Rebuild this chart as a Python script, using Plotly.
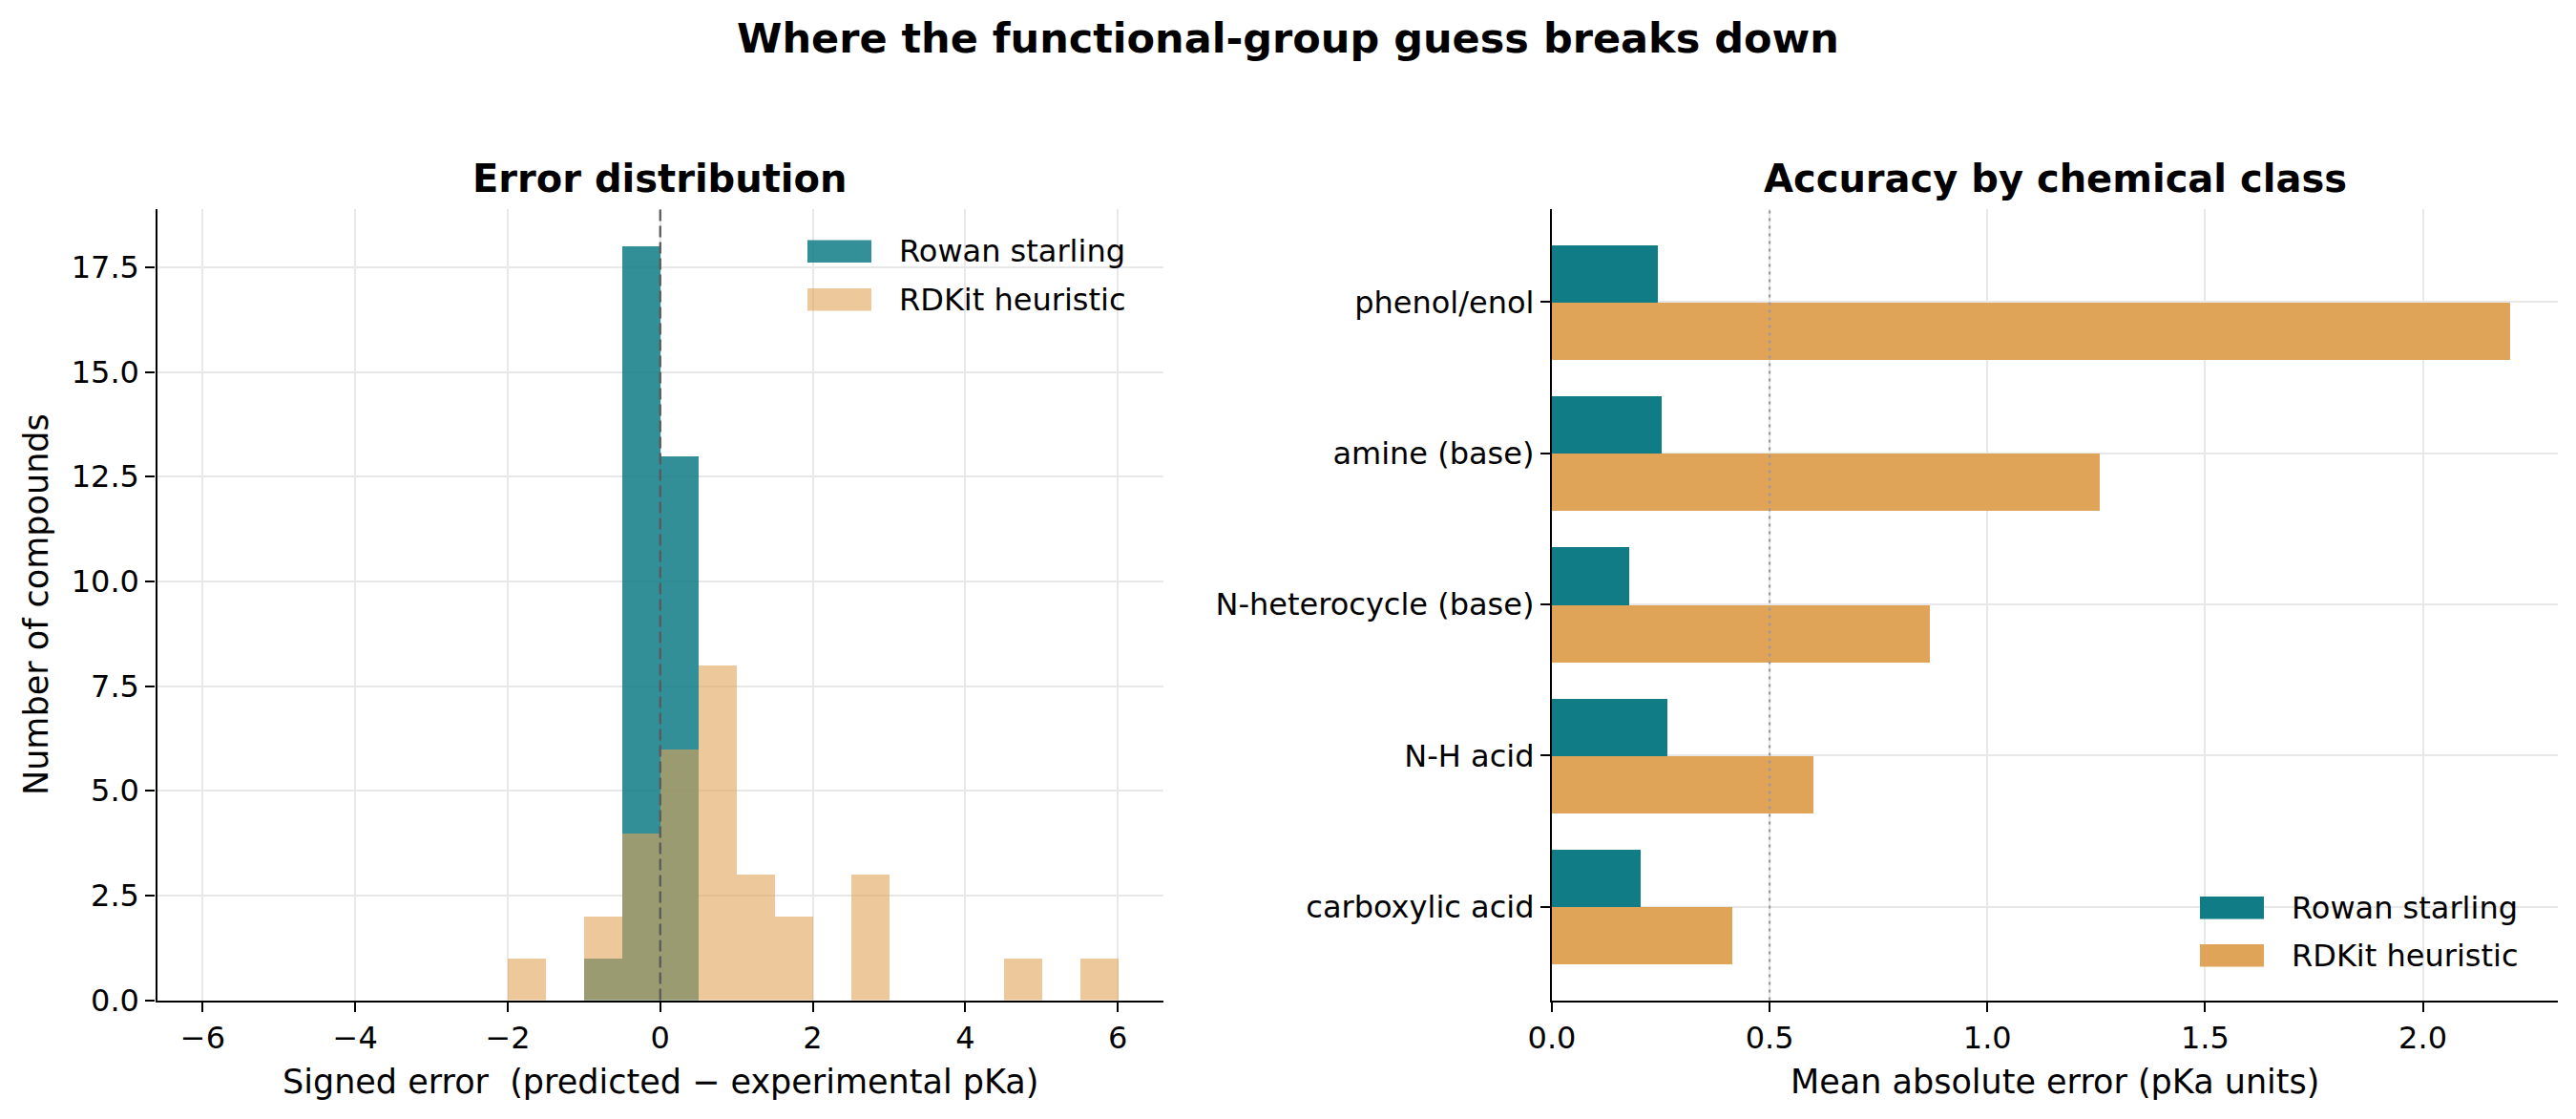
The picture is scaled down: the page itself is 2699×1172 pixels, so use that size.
import plotly.graph_objects as go

# ---------------- data ----------------
bin_width = 0.5
rowan_bin_left = [-1.0, -0.5, 0.0]
rowan_counts = [1, 18, 13]
rdkit_bin_left = [-2.0, -1.0, -0.5, 0.0, 0.5, 1.0, 1.5, 2.5, 4.5, 5.5]
rdkit_counts = [1, 2, 4, 6, 8, 3, 2, 3, 1, 1]

hist_xticks = [-6, -4, -2, 0, 2, 4, 6]
hist_xticktext = ["\u22126", "\u22124", "\u22122", "0", "2", "4", "6"]
hist_yticks = [0, 2.5, 5, 7.5, 10, 12.5, 15, 17.5]
hist_yticktext = ["0.0", "2.5", "5.0", "7.5", "10.0", "12.5", "15.0", "17.5"]

classes = ["phenol/enol", "amine (base)", "N-heterocycle (base)", "N-H acid", "carboxylic acid"]
mae_rowan = [0.244, 0.252, 0.177, 0.266, 0.204]
mae_rdkit = [2.20, 1.258, 0.868, 0.600, 0.415]
mae_xticks = [0, 0.5, 1.0, 1.5, 2.0]
mae_xticktext = ["0.0", "0.5", "1.0", "1.5", "2.0"]

series_names = ["Rowan starling", "RDKit heuristic"]

# ---------------- style ----------------
W, H = 2699, 1172
TEAL = "#0f7c86"
ORANGE = "#e0a458"
FONT = "DejaVu Sans"
TICK = 32
GRID = "#e8e8e8"
LW = 2.3


def px(x):
    return x / W


def py(y):
    return 1 - y / H


fig = go.Figure()

fig.add_trace(go.Bar(x=rowan_bin_left, y=rowan_counts, width=bin_width, offset=0,
                     marker=dict(color=TEAL, line=dict(width=0)), opacity=0.85,
                     name=series_names[0], xaxis="x", yaxis="y"))
fig.add_trace(go.Bar(x=rdkit_bin_left, y=rdkit_counts, width=bin_width, offset=0,
                     marker=dict(color=ORANGE, line=dict(width=0)), opacity=0.6,
                     name=series_names[1], xaxis="x", yaxis="y"))

fig.add_trace(go.Bar(y=classes, x=mae_rowan, orientation="h", width=0.38, offset=-0.38,
                     marker=dict(color=TEAL, line=dict(width=0)),
                     name=series_names[0], xaxis="x2", yaxis="y2"))
fig.add_trace(go.Bar(y=classes, x=mae_rdkit, orientation="h", width=0.38, offset=0,
                     marker=dict(color=ORANGE, line=dict(width=0)),
                     name=series_names[1], xaxis="x2", yaxis="y2"))

ydom = [py(1047.5), py(218.5)]
common = dict(showline=True, linecolor="black", linewidth=LW, mirror=False,
              ticks="outside", ticklen=10, tickwidth=LW, tickcolor="black",
              showgrid=True, gridcolor=GRID, gridwidth=1.6, zeroline=False,
              automargin=False,
              tickfont=dict(family=FONT, size=TICK, color="black"))

fig.update_layout(
    template="none",
    width=W, height=H, margin=dict(l=0, r=0, t=0, b=0, pad=0),
    paper_bgcolor="white", plot_bgcolor="white",
    barmode="overlay", bargap=0, showlegend=False,
    font=dict(family=FONT, color="black"),
    xaxis=dict(domain=[px(164.5), px(1219)], range=[-6.6, 6.6], anchor="y",
               tickmode="array", tickvals=hist_xticks, ticktext=hist_xticktext, **common),
    yaxis=dict(domain=ydom, range=[0, 18.9], anchor="x",
               tickmode="array", tickvals=hist_yticks, ticktext=hist_yticktext, **common),
    xaxis2=dict(domain=[px(1626), px(2680)], range=[0, 2.31], anchor="y2",
                tickmode="array", tickvals=mae_xticks, ticktext=mae_xticktext, **common),
    yaxis2=dict(domain=ydom, type="category", categoryorder="array", categoryarray=classes,
                range=[4.618, -0.618], anchor="x2", **common),
)

shapes = [
    dict(type="line", xref="x", yref="y domain", x0=0, x1=0, y0=0, y1=1,
         line=dict(color="#5a5a5a", width=2.3, dash="12px,5px"), layer="above"),
    dict(type="line", xref="x2", yref="y2 domain", x0=0.5, x1=0.5, y0=0, y1=1,
         line=dict(color="#999999", width=2.2, dash="3px,5px"), layer="above"),
]

# manual legends (matplotlib-style patches)
def legend(x0, ys, colors, opac):
    out_s, out_a = [], []
    for (yc, name, c, o) in zip(ys, series_names, colors, opac):
        out_s.append(dict(type="rect", xref="paper", yref="paper",
                          x0=px(x0), x1=px(x0 + 67), y0=py(yc + 11.7), y1=py(yc - 11.7),
                          fillcolor=c, opacity=o, line=dict(width=0), layer="above"))
        out_a.append(dict(text=name, xref="paper", yref="paper", x=px(x0 + 94), y=py(yc),
                          xanchor="left", yanchor="middle", showarrow=False,
                          font=dict(family=FONT, size=TICK, color="black")))
    return out_s, out_a

s1, a1 = legend(846, [263.3, 313.7], [TEAL, ORANGE], [0.85, 0.6])
s2, a2 = legend(2305, [950.8, 1000.8], [TEAL, ORANGE], [1, 1])
shapes += s1 + s2

annotations = [
    dict(text="<b>Where the functional-group guess breaks down</b>", xref="paper", yref="paper",
         x=0.5, y=py(40), xanchor="center", yanchor="middle", showarrow=False,
         font=dict(family=FONT, size=43, color="black")),
    dict(text="<b>Error distribution</b>", xref="paper", yref="paper",
         x=px(691.7), y=py(187), xanchor="center", yanchor="middle", showarrow=False,
         font=dict(family=FONT, size=40, color="black")),
    dict(text="<b>Accuracy by chemical class</b>", xref="paper", yref="paper",
         x=px(2153), y=py(187), xanchor="center", yanchor="middle", showarrow=False,
         font=dict(family=FONT, size=40, color="black")),
    dict(text="Signed error \u00a0(predicted \u2212 experimental pKa)", xref="paper", yref="paper",
         x=px(691.7), y=py(1133), xanchor="center", yanchor="middle", showarrow=False,
         font=dict(family=FONT, size=35, color="black")),
    dict(text="Mean absolute error (pKa units)", xref="paper", yref="paper",
         x=px(2153), y=py(1133), xanchor="center", yanchor="middle", showarrow=False,
         font=dict(family=FONT, size=35, color="black")),
    dict(text="Number of compounds", xref="paper", yref="paper",
         x=px(38), y=py(633), xanchor="center", yanchor="middle", textangle=-90, showarrow=False,
         font=dict(family=FONT, size=35, color="black")),
] + a1 + a2

fig.update_layout(shapes=shapes, annotations=annotations)

fig.write_html("out.html")
